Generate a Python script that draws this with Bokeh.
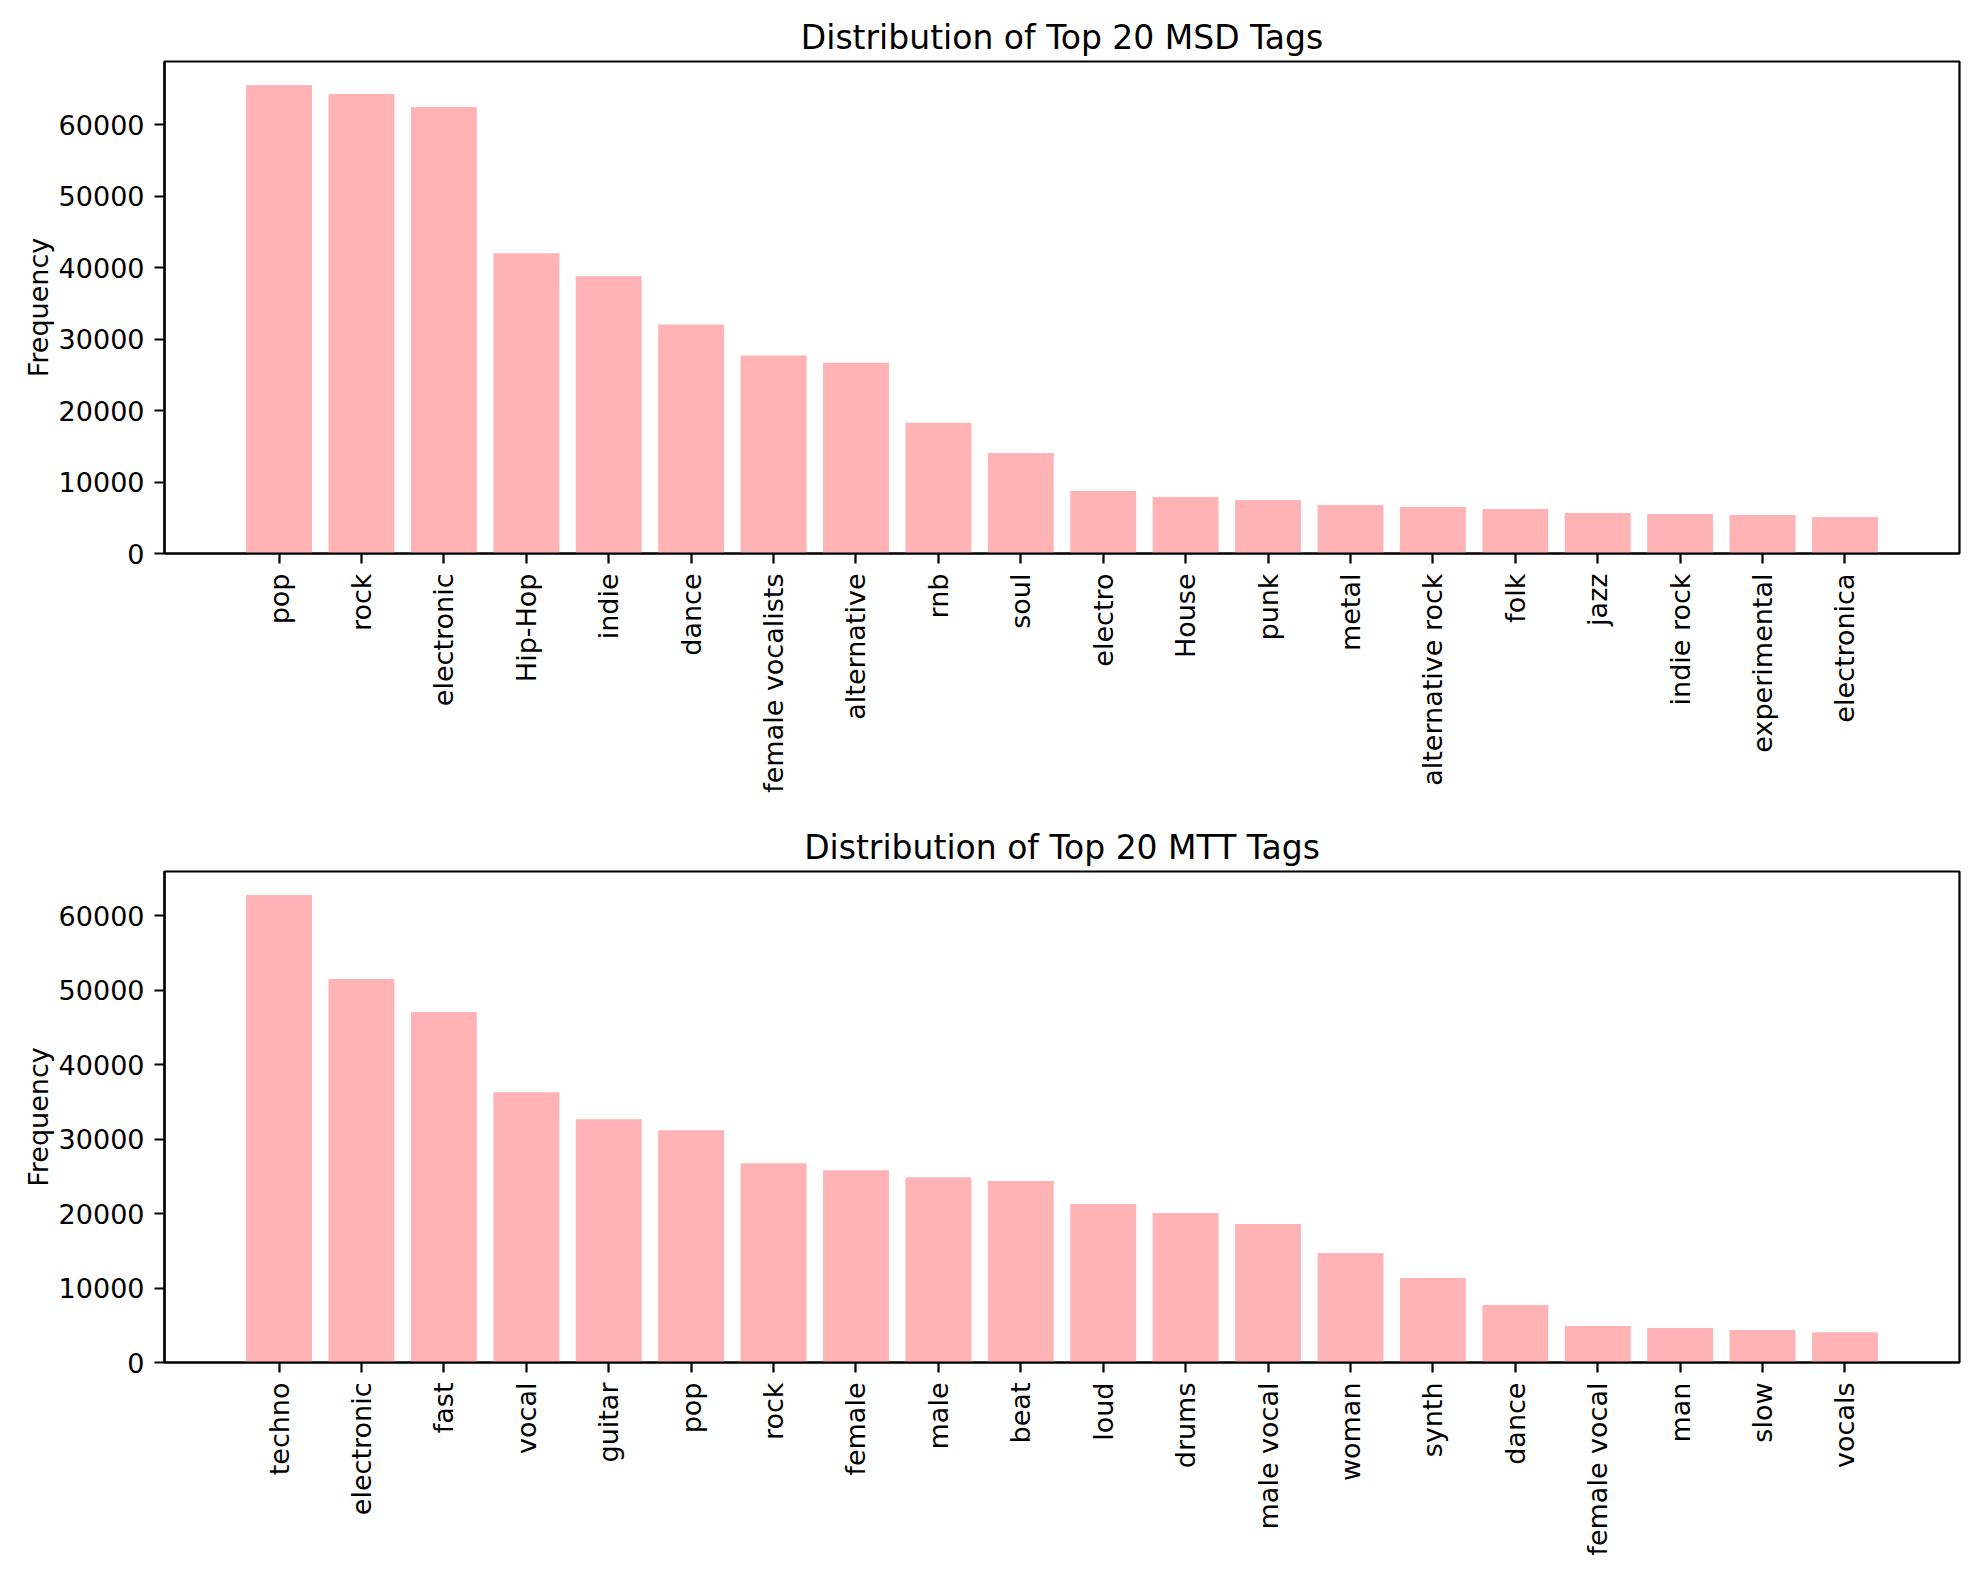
import math
from bokeh.plotting import figure
from bokeh.layouts import column
from bokeh.models import Range1d, FixedTicker, SingleIntervalTicker
from bokeh.embed import file_html
from bokeh.resources import INLINE

# ---- data ----
msd_tags = ["pop", "rock", "electronic", "Hip-Hop", "indie", "dance",
            "female vocalists", "alternative", "rnb", "soul", "electro",
            "House", "punk", "metal", "alternative rock", "folk", "jazz",
            "indie rock", "experimental", "electronica"]
msd_counts = [65570, 64310, 62490, 42000, 38780, 32040, 27690, 26700,
              18290, 14080, 8750, 7900, 7480, 6780, 6500, 6220, 5660,
              5520, 5380, 5100]

mtt_tags = ["techno", "electronic", "fast", "vocal", "guitar", "pop", "rock",
            "female", "male", "beat", "loud", "drums", "male vocal", "woman",
            "synth", "dance", "female vocal", "man", "slow", "vocals"]
mtt_counts = [62830, 51520, 47090, 36320, 32690, 31210, 26770, 25830, 24890,
              24370, 21300, 20090, 18610, 14710, 11350, 7710, 4890, 4620,
              4350, 4080]

titles = ["Distribution of Top 20 MSD Tags", "Distribution of Top 20 MTT Tags"]
y_label = "Frequency"

BAR_COLOR = "#FFB3B5"
FONT = "DejaVu Sans"


def make_plot(tags, counts, title, frame_h, top_border, bottom_border):
    idx = list(range(len(tags)))
    n = len(tags)
    span = (n - 1) + 0.8
    pad = span * 0.05
    x0 = -0.4 - pad
    x1 = (n - 1) + 0.4 + pad
    ytop = max(counts) * 1.05
    p = figure(frame_width=1795, frame_height=frame_h,
               x_range=Range1d(x0, x1), y_range=Range1d(0, ytop),
               output_backend="svg", toolbar_location=None,
               min_border_left=164, min_border_right=12,
               min_border_top=top_border, min_border_bottom=bottom_border,
               title=title)
    p.vbar(x=idx, top=counts, width=0.8, bottom=0,
           fill_color=BAR_COLOR, line_color=None)

    p.title.text_font = FONT
    p.title.text_font_size = "33px"
    p.title.text_font_style = "normal"
    p.title.align = "center"
    p.title.text_color = "black"

    p.xgrid.visible = False
    p.ygrid.visible = False
    p.outline_line_color = "black"
    p.outline_line_width = 2.2
    p.outline_line_alpha = 1.0
    p.background_fill_color = "white"
    p.border_fill_color = "white"

    p.xaxis.ticker = FixedTicker(ticks=idx)
    p.xaxis.major_label_overrides = {i: t for i, t in zip(idx, tags)}
    p.xaxis.major_label_orientation = math.pi / 2

    p.yaxis.ticker = SingleIntervalTicker(interval=10000)
    p.yaxis.axis_label = y_label

    for ax in (p.xaxis, p.yaxis):
        ax.axis_line_color = "black"
        ax.axis_line_width = 2.2
        ax.major_tick_line_color = "black"
        ax.major_tick_line_width = 2.2
        ax.major_tick_in = 0
        ax.major_tick_out = 10
        ax.minor_tick_line_color = None
        ax.major_label_text_font = FONT
        ax.major_label_text_font_size = "27px"
        ax.major_label_text_color = "black"
        ax.major_label_standoff = 10
        ax.axis_label_text_font = FONT
        ax.axis_label_text_font_size = "27px"
        ax.axis_label_text_font_style = "normal"
        ax.axis_label_text_color = "black"
        ax.axis_label_standoff = 2
    return p


p1 = make_plot(msd_tags, msd_counts, titles[0], 492, 61, 260)
p2 = make_plot(mtt_tags, mtt_counts, titles[1], 491, 58, 210)

layout = column(p1, p2, spacing=0)

open("out.html", "w").write(file_html(layout, INLINE))
